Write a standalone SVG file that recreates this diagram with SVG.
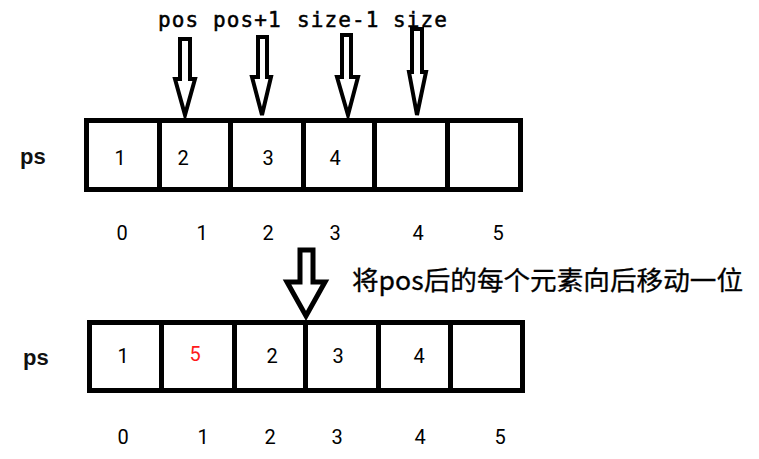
<svg xmlns="http://www.w3.org/2000/svg" width="759" height="459" viewBox="0 0 759 459">
<style>
.cell{fill:#fff;stroke:#000;stroke-width:5}
.num{font-family:"Roboto","Liberation Sans",Arial,sans-serif;font-size:20px;fill:#000;text-anchor:middle}
.idx{font-family:"Roboto","Liberation Sans",Arial,sans-serif;font-size:20px;fill:#000;text-anchor:middle}
.ps{font-family:"Liberation Sans",Arial,sans-serif;font-size:22px;font-weight:bold;fill:#111}
.lbl{font-family:"DejaVu Sans Mono","Liberation Mono",monospace;font-size:21px;letter-spacing:1.1px;fill:#000;stroke:#000;stroke-width:0.5}
.arrow{fill:#fff;stroke:#000;stroke-width:4;stroke-linejoin:miter}
.note{font-family:"Noto Sans CJK SC",sans-serif;font-size:26px;fill:#000;stroke:#000;stroke-width:0.3}
</style>
<rect width="759" height="459" fill="#fff"/>
<g id="labels-top">
<text class="lbl" x="158" y="27">pos</text>
<text class="lbl" x="213" y="27">pos+1</text>
<text class="lbl" x="297" y="27">size-1</text>
<text class="lbl" x="393" y="27">size</text>
</g>
<g id="connectors">
<path class="arrow" d="M180,39 H190 V79 H195 L185,115 L175,79 H180 Z"/>
<path class="arrow" d="M258,37 H267 V77 H271 L262,115 L252,77 H258 Z"/>
<path class="arrow" d="M342,35 H351 V77 H358 L348,115 L337,77 H342 Z"/>
<path class="arrow" d="M412,29 H422 V72 H426 L417,115 L409,72 H412 Z"/>
<path class="arrow" style="stroke-width:5" d="M300,250 H313 V282 H325 L306,316 L287,282 H300 Z"/>
</g>
<g id="array-top">
<text class="ps" x="20" y="164">ps</text>
<rect class="cell" x="86.5" y="120.5" width="73" height="69"/>
<rect class="cell" x="159.5" y="120.5" width="71" height="69"/>
<rect class="cell" x="230.5" y="120.5" width="73" height="69"/>
<rect class="cell" x="303.5" y="120.5" width="71" height="69"/>
<rect class="cell" x="374.5" y="120.5" width="73" height="69"/>
<rect class="cell" x="447.5" y="120.5" width="73" height="69"/>
<text class="num" x="120" y="165">1</text>
<text class="num" x="183" y="165">2</text>
<text class="num" x="268" y="165">3</text>
<text class="num" x="335" y="165">4</text>
<text class="idx" x="122" y="240">0</text>
<text class="idx" x="202" y="240">1</text>
<text class="idx" x="268" y="240">2</text>
<text class="idx" x="335" y="240">3</text>
<text class="idx" x="418" y="240">4</text>
<text class="idx" x="498" y="240">5</text>
</g>
<g id="note">
<text class="note" x="352" y="290" textLength="391" lengthAdjust="spacingAndGlyphs">将pos后的每个元素向后移动一位</text>
</g>
<g id="array-bottom">
<text class="ps" x="23" y="365">ps</text>
<rect class="cell" x="89.5" y="322.5" width="72" height="68"/>
<rect class="cell" x="161.5" y="322.5" width="73" height="68"/>
<rect class="cell" x="234.5" y="322.5" width="71" height="68"/>
<rect class="cell" x="305.5" y="322.5" width="73" height="68"/>
<rect class="cell" x="378.5" y="322.5" width="72" height="68"/>
<rect class="cell" x="450.5" y="322.5" width="72" height="68"/>
<text class="num" x="123" y="363">1</text>
<text class="num" x="195" y="361" style="fill:#ff1a1a">5</text>
<text class="num" x="272" y="363">2</text>
<text class="num" x="338" y="363">3</text>
<text class="num" x="419" y="363">4</text>
<text class="idx" x="123" y="444">0</text>
<text class="idx" x="203" y="444">1</text>
<text class="idx" x="270" y="444">2</text>
<text class="idx" x="337" y="444">3</text>
<text class="idx" x="420" y="444">4</text>
<text class="idx" x="500" y="444">5</text>
</g>
</svg>
